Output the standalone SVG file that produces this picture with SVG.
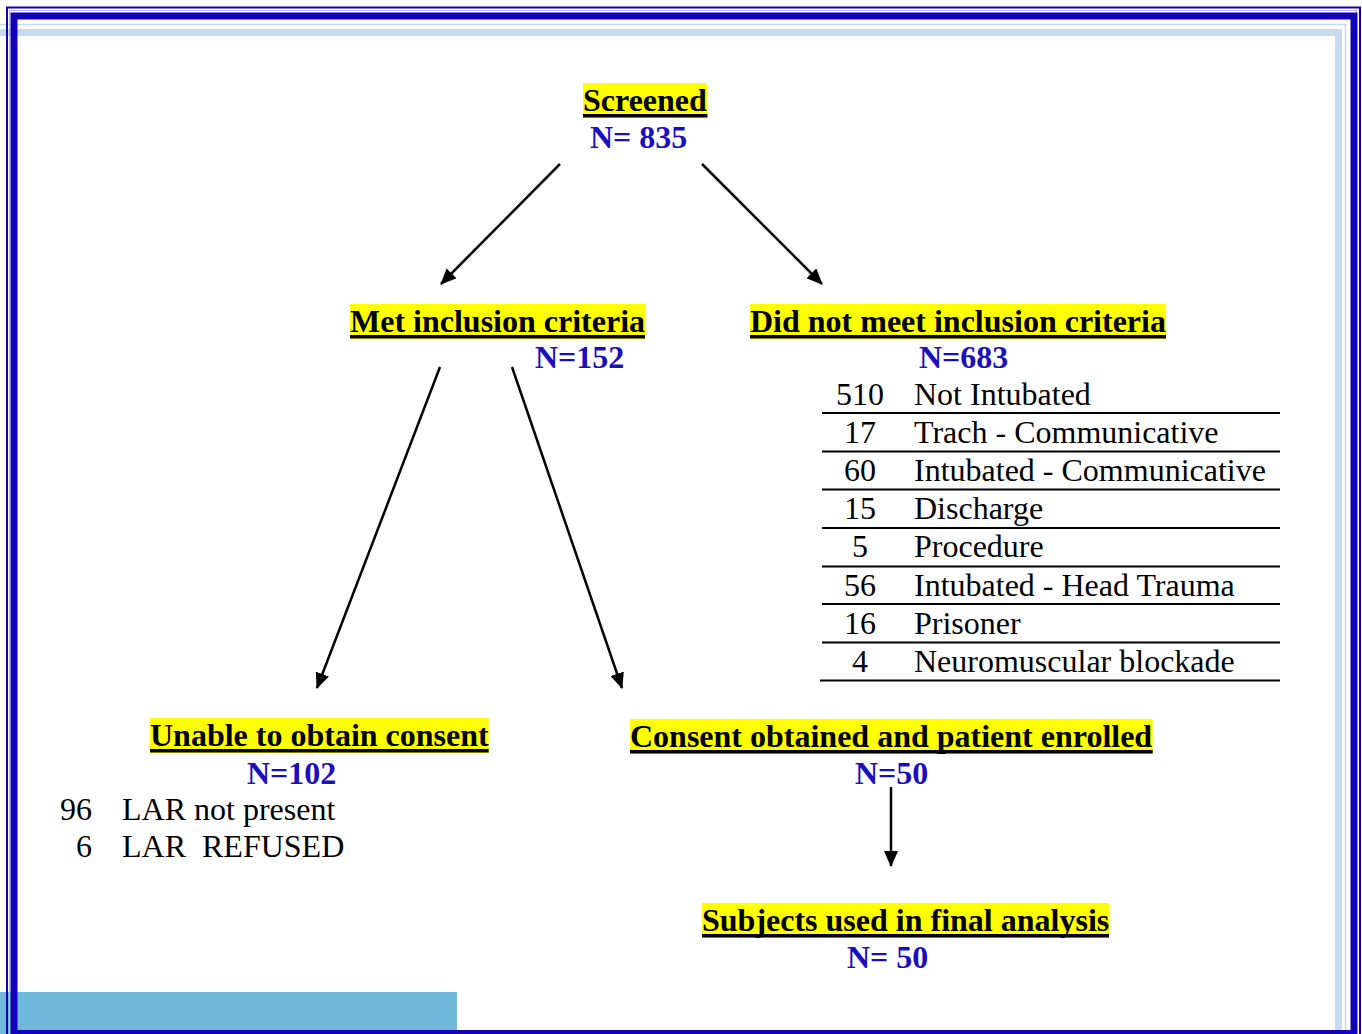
<svg xmlns="http://www.w3.org/2000/svg" width="1362" height="1034" viewBox="0 0 1362 1034">
  <style>
    .h { font-family: "Liberation Serif", "Times New Roman", serif; font-weight: bold; font-size: 32px; fill: #000; }
    .n { font-family: "Liberation Serif", "Times New Roman", serif; font-weight: bold; font-size: 32px; fill: #1A0FBE; }
    .t { font-family: "Liberation Serif", "Times New Roman", serif; font-size: 32px; fill: #000; }
    .hl { fill: #FFFF00; }
    .ul { fill: #000; }
    .rule { stroke: #000; stroke-width: 2; }
    .conn { stroke: #000; stroke-width: 2.5; fill: none; marker-end: url(#arrow); }
  </style>
  <defs>
    <marker id="arrow" markerUnits="userSpaceOnUse" markerWidth="16" markerHeight="14" refX="15" refY="7" orient="auto">
      <path d="M0,0 L16,7 L0,14 z" fill="#000"/>
    </marker>
  </defs>

  <rect x="0" y="0" width="1362" height="1034" fill="#FFFFFF"/>

  <!-- decorative frame -->
  <g id="frame">
    <rect x="0" y="992" width="457" height="42" fill="#6FB8D9"/>
    <rect x="-8" y="24.5" width="1353.5" height="1100" fill="none" stroke="#C6D9EF" stroke-width="1.5"/>
    <rect x="-10" y="32.5" width="1348.5" height="1100" fill="none" stroke="#C6D9EF" stroke-width="7"/>
    <rect x="7" y="7.5" width="1353" height="1100" fill="none" stroke="#1200BB" stroke-width="2"/>
    <rect x="9.5" y="10.5" width="1347" height="1100" fill="none" stroke="#B8B8EC" stroke-width="1"/>
    <rect x="14" y="16" width="1340" height="1017.5" fill="none" stroke="#1200BB" stroke-width="7"/>
  </g>

  <!-- connectors -->
  <g id="connectors">
    <line class="conn" x1="560" y1="164" x2="441" y2="284"/>
    <line class="conn" x1="702" y1="164" x2="822" y2="284"/>
    <line class="conn" x1="440" y1="367" x2="317" y2="688"/>
    <line class="conn" x1="512" y1="367" x2="622" y2="688"/>
    <line class="conn" x1="891" y1="787" x2="891" y2="866"/>
  </g>

  <g id="screened">
    <rect class="hl" x="583" y="83" width="124.4" height="35"/>
    <rect class="ul" x="583" y="114" width="124.4" height="3.5"/>
    <text class="h" x="583" y="111">Screened</text>
    <text class="n" x="590" y="148">N= 835</text>
  </g>

  <g id="met">
    <rect class="hl" x="350" y="304" width="295" height="35"/>
    <rect class="ul" x="350" y="335" width="295" height="3.5"/>
    <text class="h" x="350" y="332">Met inclusion criteria</text>
    <text class="n" x="535" y="368">N=152</text>
  </g>

  <g id="notmet">
    <rect class="hl" x="750" y="304" width="416" height="35"/>
    <rect class="ul" x="750" y="335" width="416" height="3.5"/>
    <text class="h" x="750" y="332">Did not meet inclusion criteria</text>
    <text class="n" x="919" y="368">N=683</text>
    <g text-anchor="middle" class="t">
      <text x="860" y="404.5">510</text>
      <text x="860" y="442.7">17</text>
      <text x="860" y="480.9">60</text>
      <text x="860" y="519.1">15</text>
      <text x="860" y="557.3">5</text>
      <text x="860" y="595.5">56</text>
      <text x="860" y="633.7">16</text>
      <text x="860" y="671.9">4</text>
    </g>
    <g class="t">
      <text x="914" y="404.5">Not Intubated</text>
      <text x="914" y="442.7">Trach - Communicative</text>
      <text x="914" y="480.9">Intubated - Communicative</text>
      <text x="914" y="519.1">Discharge</text>
      <text x="914" y="557.3">Procedure</text>
      <text x="914" y="595.5">Intubated - Head Trauma</text>
      <text x="914" y="633.7">Prisoner</text>
      <text x="914" y="671.9">Neuromuscular blockade</text>
    </g>
    <g class="rule">
      <line x1="822" y1="413" x2="1280" y2="413"/>
      <line x1="822" y1="451.5" x2="1280" y2="451.5"/>
      <line x1="822" y1="489.5" x2="1280" y2="489.5"/>
      <line x1="822" y1="528" x2="1280" y2="528"/>
      <line x1="822" y1="566.5" x2="1280" y2="566.5"/>
      <line x1="822" y1="604" x2="1280" y2="604"/>
      <line x1="822" y1="642.5" x2="1280" y2="642.5"/>
      <line x1="820" y1="680.5" x2="1280" y2="680.5"/>
    </g>
  </g>

  <g id="unable">
    <rect class="hl" x="150" y="718" width="338.7" height="35"/>
    <rect class="ul" x="150" y="749" width="338.7" height="3.5"/>
    <text class="h" x="150" y="746">Unable to obtain consent</text>
    <text class="n" x="247" y="784">N=102</text>
    <text class="t" x="92" y="820" text-anchor="end">96</text>
    <text class="t" x="122" y="820">LAR not present</text>
    <text class="t" x="92" y="856.5" text-anchor="end">6</text>
    <text class="t" x="122" y="856.5" xml:space="preserve">LAR  REFUSED</text>
  </g>

  <g id="consent">
    <rect class="hl" x="630" y="719" width="522.7" height="35"/>
    <rect class="ul" x="630" y="750" width="522.7" height="3.5"/>
    <text class="h" x="630" y="747">Consent obtained and patient enrolled</text>
    <text class="n" x="855" y="784">N=50</text>
  </g>

  <g id="subjects">
    <rect class="hl" x="702" y="903" width="407" height="35"/>
    <rect class="ul" x="702" y="934" width="407" height="3.5"/>
    <text class="h" x="702" y="931">Subjects used in final analysis</text>
    <text class="n" x="847" y="968">N= 50</text>
  </g>
</svg>
